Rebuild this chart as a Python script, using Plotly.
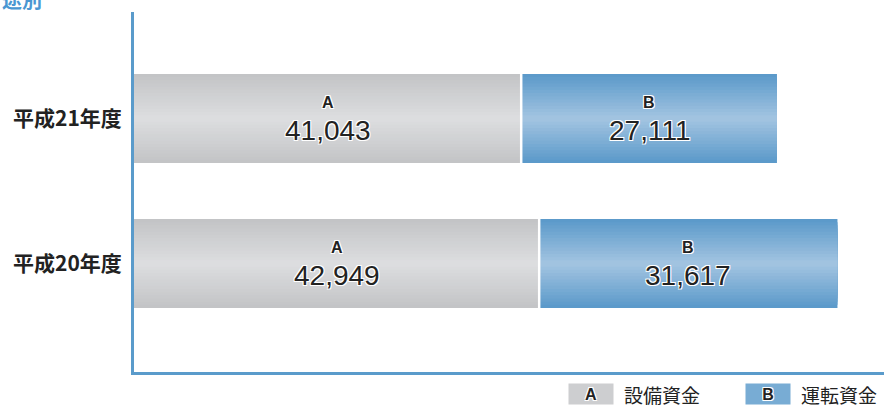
import plotly.graph_objects as go

# ---- data ----
categories = ["平成20年度", "平成21年度"]
equipment_funds = [42949, 41043]   # A 設備資金
working_funds = [31617, 27111]     # B 運転資金
segment_letters = ["A", "B"]
legend_names = ["設備資金", "運転資金"]

# ---- style ----
GRAY_EDGE = (195, 196, 198)
GRAY_MID = (222, 223, 225)
BLUE_EDGE = (92, 154, 202)
BLUE_MID = (166, 198, 226)
AXIS_BLUE = "#5a9bcb"
BAR_W = 0.614
N_LAYERS = 14
TEXT_FONT = "Liberation Sans, Arial, sans-serif"
CJK_FONT = "Noto Sans CJK JP, sans-serif"
HALO = "1px 1px 0 #fff, -1px -1px 0 #fff, 1px -1px 0 #fff, -1px 1px 0 #fff"


def lerp(c1, c2, t):
    return "rgb(%d,%d,%d)" % tuple(round(a + (b - a) * t) for a, b in zip(c1, c2))


fig = go.Figure()

bases_b = equipment_funds
for k in range(N_LAYERS):
    t = k / N_LAYERS
    w = BAR_W * (1 - t)
    fig.add_trace(go.Bar(
        y=categories, x=equipment_funds, base=[0] * len(categories),
        orientation="h", width=w, marker=dict(color=lerp(GRAY_EDGE, GRAY_MID, t), line=dict(width=0)),
        showlegend=False, hoverinfo="skip"))
    fig.add_trace(go.Bar(
        y=categories, x=working_funds, base=bases_b,
        orientation="h", width=w, marker=dict(color=lerp(BLUE_EDGE, BLUE_MID, t), line=dict(width=0)),
        showlegend=False, hoverinfo="skip"))

# white separator between the segments
fig.add_trace(go.Scatter(
    y=categories, x=equipment_funds, mode="markers",
    marker=dict(symbol="line-ns-open", size=89, color="white", line=dict(color="white", width=2.5)),
    showlegend=False, hoverinfo="skip"))

annotations = []
for cat, a, b in zip(categories, equipment_funds, working_funds):
    for letter, base, val in ((segment_letters[0], 0, a), (segment_letters[1], a, b)):
        cx = base + val / 2
        annotations.append(dict(
            x=cx, y=cat, xref="x", yref="y", text="<b>%s</b>" % letter, showarrow=False,
            yshift=16, font=dict(family=TEXT_FONT, size=16, color="#222", shadow=HALO)))
        annotations.append(dict(
            x=cx, y=cat, xref="x", yref="y", text=f"{val:,}", showarrow=False,
            yshift=-12, font=dict(family=TEXT_FONT, size=28, color="#222", shadow=HALO)))

# partial title at top-left
annotations.append(dict(
    x=-134 / 750, y=1.0, xref="paper", yref="paper", xanchor="left", yanchor="bottom",
    text="<b>途別</b>", showarrow=False, yshift=-4,
    font=dict(family=CJK_FONT, size=20, color="#4a97d2")))

# legend (custom)
legend_items = [
    (segment_letters[0], legend_names[0], "rgb(205,206,208)", 568),
    (segment_letters[1], legend_names[1], "rgb(120,172,212)", 745),
]
for letter, name, col, px in legend_items:
    annotations.append(dict(
        x=(px - 134) / 750, y=-22 / 360, xref="paper", yref="paper", xanchor="left", yanchor="middle",
        text="<b>%s</b>" % letter, showarrow=False, width=44, height=20, bgcolor=col,
        borderpad=0, align="center",
        font=dict(family=TEXT_FONT, size=16, color="#222", shadow=HALO)))
    annotations.append(dict(
        x=(px + 55 - 134) / 750, y=-22 / 360, xref="paper", yref="paper", xanchor="left", yanchor="middle",
        text=name, showarrow=False, borderpad=0,
        font=dict(family=CJK_FONT, size=19, color="#222")))

fig.update_layout(
    width=884, height=407,
    margin=dict(l=134, r=0, t=12, b=35),
    barmode="overlay",
    plot_bgcolor="white", paper_bgcolor="white",
    showlegend=False,
    annotations=annotations,
    xaxis=dict(range=[0, 79500], showgrid=False, zeroline=False, showticklabels=False,
               showline=True, linecolor=AXIS_BLUE, linewidth=3, ticks=""),
    yaxis=dict(type="category", categoryorder="array", categoryarray=categories,
               range=[-0.748, 1.734], showgrid=False, zeroline=False,
               showline=True, linecolor=AXIS_BLUE, linewidth=3, ticks="",
               ticklabelstandoff=5,
               tickfont=dict(family=CJK_FONT, size=21, color="#222", weight="bold")),
)

fig.write_html("out.html", config={"displayModeBar": False})

# remove the default page margin so the figure sits at the window's top-left
with open("out.html", encoding="utf-8") as f:
    html = f.read()
html = html.replace("<head>", "<head><style>html,body{margin:0;padding:0;overflow:hidden}</style>", 1)
with open("out.html", "w", encoding="utf-8") as f:
    f.write(html)
